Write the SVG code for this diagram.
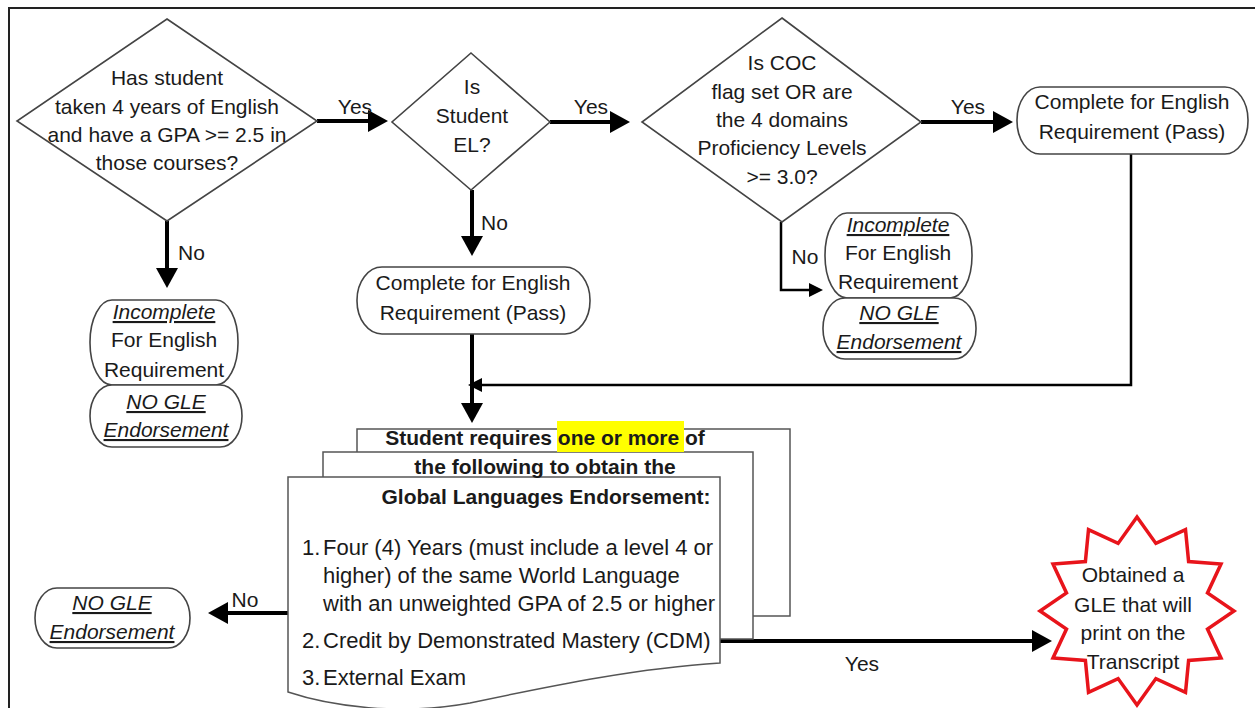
<svg xmlns="http://www.w3.org/2000/svg" width="1255" height="708" viewBox="0 0 1255 708">
<style>
text{font-family:"Liberation Sans",Arial,sans-serif;font-size:21px;fill:#1a1a1a}
.c{text-anchor:middle}
.b{font-weight:bold}
.li{font-size:22px}
.iu{font-style:italic;text-decoration:underline}
.shape{fill:#fff;stroke:#444;stroke-width:1.6}
.page{fill:#fff;stroke:#555;stroke-width:1.5}
.thick{fill:none;stroke:#000;stroke-width:4}
.thin{fill:none;stroke:#000;stroke-width:2.5}
.star{fill:#fff;stroke:#e8141b;stroke-width:3.5;stroke-linejoin:miter}
</style>
<defs>
<marker id="ah" markerUnits="userSpaceOnUse" markerWidth="20" markerHeight="22" refX="12" refY="11" orient="auto"><path d="M0,0 L20,11 L0,22 z" fill="#000"/></marker>
<marker id="ahs" markerUnits="userSpaceOnUse" markerWidth="14" markerHeight="14" refX="8" refY="7" orient="auto"><path d="M0,0 L14,7 L0,14 z" fill="#000"/></marker>
</defs>
<rect width="1255" height="708" fill="#fff"/>
<path d="M9,720 V8 H1265" fill="none" stroke="#222" stroke-width="2"/>

<g id="connectors">
<path class="thick" d="M317,121 H380" marker-end="url(#ah)"/>
<path class="thick" d="M550,122 H622" marker-end="url(#ah)"/>
<path class="thick" d="M921,122 H1005" marker-end="url(#ah)"/>
<path class="thick" d="M167,221 V280" marker-end="url(#ah)"/>
<path class="thick" d="M472,190 V248" marker-end="url(#ah)"/>
<path class="thick" d="M472,334 V415" marker-end="url(#ah)"/>
<path class="thick" d="M288,613 H216" marker-end="url(#ah)"/>
<path class="thick" d="M720,641 H1044" marker-end="url(#ah)"/>
<path class="thin" d="M1131,154 V385 H474" marker-end="url(#ahs)"/>
<path class="thin" d="M781,222 V290 H817" marker-end="url(#ahs)"/>
<text class="c" x="355" y="114">Yes</text>
<text class="c" x="591" y="114">Yes</text>
<text class="c" x="968" y="114">Yes</text>
<text x="178" y="260">No</text>
<text x="481" y="230">No</text>
<text class="c" x="805" y="264">No</text>
<text class="c" x="245" y="607">No</text>
<text class="c" x="862" y="671">Yes</text>
</g>

<g id="d1">
<polygon class="shape" points="167,19 317,121 167,221 17,121"/>
<text class="c" x="167" y="85">Has student</text>
<text class="c" x="167" y="114">taken 4 years of English</text>
<text class="c" x="167" y="142">and have a GPA &gt;= 2.5 in</text>
<text class="c" x="167" y="170">those courses?</text>
</g>

<g id="d2">
<polygon class="shape" points="471,53 550,122 471,190 392,122"/>
<text class="c" x="472" y="94">Is</text>
<text class="c" x="472" y="123">Student</text>
<text class="c" x="472" y="152">EL?</text>
</g>

<g id="d3">
<polygon class="shape" points="782,18 921,122 782,222 642,122"/>
<text class="c" x="782" y="70">Is COC</text>
<text class="c" x="782" y="99">flag set OR are</text>
<text class="c" x="782" y="127">the 4 domains</text>
<text class="c" x="782" y="155">Proficiency Levels</text>
<text class="c" x="782" y="184">&gt;= 3.0?</text>
</g>

<g id="pass1">
<rect class="shape" x="1017" y="87" width="231" height="67" rx="23" ry="33"/>
<text class="c" x="1132" y="109">Complete for English</text>
<text class="c" x="1132" y="139">Requirement (Pass)</text>
</g>

<g id="pass2">
<rect class="shape" x="357" y="267" width="233" height="67" rx="25" ry="33"/>
<text class="c" x="473" y="290">Complete for English</text>
<text class="c" x="473" y="320">Requirement (Pass)</text>
</g>

<g id="incomplete1">
<rect class="shape" x="90" y="300" width="148" height="85" rx="22" ry="42"/>
<text class="c iu" x="164" y="319">Incomplete</text>
<text class="c" x="164" y="347">For English</text>
<text class="c" x="164" y="377">Requirement</text>
</g>
<g id="nogle1">
<rect class="shape" x="90" y="385" width="152" height="62" rx="22" ry="31"/>
<text class="c iu" x="166" y="409">NO GLE</text>
<text class="c iu" x="166" y="437">Endorsement</text>
</g>

<g id="incomplete2">
<rect class="shape" x="825" y="213" width="147" height="85" rx="22" ry="42"/>
<text class="c iu" x="898" y="232">Incomplete</text>
<text class="c" x="898" y="260">For English</text>
<text class="c" x="898" y="289">Requirement</text>
</g>
<g id="nogle2">
<rect class="shape" x="823" y="298" width="153" height="61" rx="22" ry="30"/>
<text class="c iu" x="899" y="320">NO GLE</text>
<text class="c iu" x="899" y="349">Endorsement</text>
</g>

<g id="nogle3">
<rect class="shape" x="35" y="588" width="155" height="60" rx="22" ry="30"/>
<text class="c iu" x="112" y="610">NO GLE</text>
<text class="c iu" x="112" y="639">Endorsement</text>
</g>

<g id="requirements">
<rect class="page" x="357" y="429" width="433" height="187"/>
<rect class="page" x="323" y="452" width="430" height="187"/>
<path class="page" d="M288,477 H720 V663 C640,668 560,684 470,703 C400,716 330,706 288,692 Z"/>
<rect x="557" y="421" width="127" height="31" fill="#ffff00"/>
<text class="c b" x="545" y="445">Student requires one or more of</text>
<text class="c b" x="545" y="474">the following to obtain the</text>
<text class="c b" x="546" y="504">Global Languages Endorsement:</text>
<text class="li" x="302" y="555">1.</text>
<text class="li" x="323" y="555">Four (4) Years (must include a level 4 or</text>
<text class="li" x="323" y="583">higher) of the same World Language</text>
<text class="li" x="323" y="611">with an unweighted GPA of 2.5 or higher</text>
<text class="li" x="302" y="648">2.</text>
<text class="li" x="323" y="648">Credit by Demonstrated Mastery (CDM)</text>
<text class="li" x="302" y="685">3.</text>
<text class="li" x="323" y="685">External Exam</text>
</g>

<g id="obtained">
<polygon class="star" points="1137,517 1155.9,543.4 1185.5,529.6 1188.6,561.5 1221,564 1207.5,592.9 1234,611 1207.5,629.1 1221,658 1188.6,660.5 1185.5,692.4 1155.9,678.6 1137,705 1118.1,678.6 1088.5,692.4 1085.4,660.5 1053,658 1066.5,629.1 1040,611 1066.5,592.9 1053,564 1085.4,561.5 1088.5,529.6 1118.1,543.4"/>
<text class="c" x="1133" y="582">Obtained a</text>
<text class="c" x="1133" y="612">GLE that will</text>
<text class="c" x="1133" y="640">print on the</text>
<text class="c" x="1133" y="669">Transcript</text>
</g>
</svg>
